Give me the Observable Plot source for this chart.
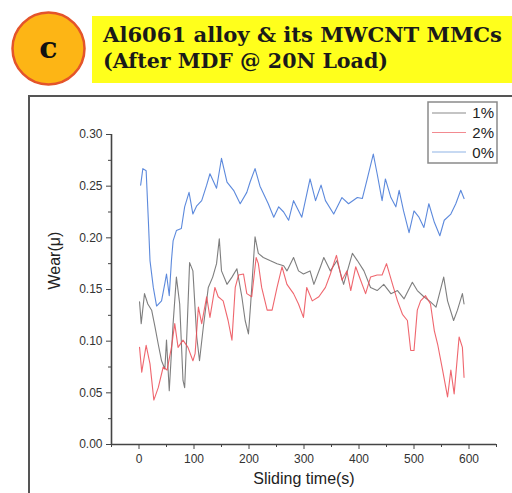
<!DOCTYPE html>
<html>
<head>
<meta charset="utf-8">
<script src="https://cdn.jsdelivr.net/npm/d3@7"></script>
<script src="https://cdn.jsdelivr.net/npm/@observablehq/plot@0.6"></script>
<style>
  html, body { margin: 0; padding: 0; background: #fff; }
  body { width: 512px; height: 493px; overflow: hidden; position: relative; font-family: "Liberation Sans", Arial, sans-serif; }
  #header { position: absolute; left: 0; top: 0; }
  #frame { position: absolute; left: 28px; top: 95px; width: 520px; height: 430px; border: 2px solid #555; box-sizing: border-box; }
  #chart { position: absolute; left: 30px; top: 97px; }
  #legend { position: absolute; left: 0; top: 0; pointer-events: none; }
</style>
</head>
<body>
<svg id="header" width="512" height="95">
  <circle cx="48.5" cy="48.5" r="36" fill="#fdb515" stroke="#e4542a" stroke-width="2.5"/>
  <text x="48.5" y="58" text-anchor="middle" font-family="DejaVu Serif" font-weight="bold" font-size="30" fill="#111">c</text>
  <rect x="92" y="16" width="420" height="67" fill="#ffff1c"/>
  <text x="103" y="42" font-family="DejaVu Serif" font-weight="bold" font-size="20" fill="#1a1a1a" textLength="399" lengthAdjust="spacingAndGlyphs">Al6061 alloy &amp; its MWCNT MMCs</text>
  <text x="103" y="68" font-family="DejaVu Serif" font-weight="bold" font-size="20" fill="#1a1a1a" textLength="285" lengthAdjust="spacingAndGlyphs">(After MDF @ 20N Load)</text>
</svg>
<div id="frame"></div>
<div id="chart"></div>
<svg id="legend" width="512" height="493">
  <rect x="428" y="102" width="69" height="61" fill="#fff" stroke="#8a8a8a" stroke-width="1.5"/>
  <line x1="432" x2="466" y1="113" y2="113" stroke="#8a8a8a" stroke-width="1.2"/>
  <line x1="432" x2="466" y1="132.5" y2="132.5" stroke="#f28a90" stroke-width="1.2"/>
  <line x1="432" x2="466" y1="152" y2="152" stroke="#90b4e6" stroke-width="1.2"/>
  <text x="494" y="118" text-anchor="end" font-family="Liberation Sans, Arial" font-size="15" fill="#222">1%</text>
  <text x="494" y="138" text-anchor="end" font-family="Liberation Sans, Arial" font-size="15" fill="#222">2%</text>
  <text x="494" y="158" text-anchor="end" font-family="Liberation Sans, Arial" font-size="15" fill="#222">0%</text>
</svg>
<script>
const seriesNames = ["1%", "2%", "0%"];

const t0 = [3,7,13,17,20,26,32,41,47,50,55,59,62,68,77,83,91,98,105,114,123,129,141,150,160,172,184,196,202,211,220,235,245,254,263,272,281,296,311,321,331,339,354,369,381,397,406,415,426,433,442,448,458,467,473,481,491,500,509,518,527,537,547,555,567,576,585,591];
const v0 = [0.251,0.267,0.265,0.217,0.178,0.152,0.134,0.139,0.156,0.165,0.144,0.178,0.197,0.207,0.209,0.230,0.244,0.223,0.231,0.236,0.251,0.262,0.248,0.277,0.254,0.246,0.233,0.244,0.254,0.267,0.250,0.233,0.220,0.230,0.225,0.217,0.236,0.220,0.257,0.236,0.251,0.236,0.223,0.239,0.233,0.239,0.238,0.257,0.281,0.262,0.236,0.257,0.239,0.230,0.246,0.226,0.205,0.226,0.220,0.210,0.233,0.215,0.202,0.217,0.223,0.233,0.246,0.238];

const t1 = [1,4,10,16,23,29,35,41,47,50,55,62,68,74,80,83,88,92,98,105,110,117,126,134,141,146,150,160,169,178,187,193,199,203,211,217,226,238,251,263,269,281,290,299,311,318,330,336,348,360,372,388,397,409,421,433,445,458,470,482,497,506,518,530,540,554,561,572,579,588,591];
const v1 = [0.138,0.117,0.146,0.136,0.130,0.114,0.097,0.081,0.073,0.101,0.052,0.117,0.162,0.136,0.062,0.055,0.120,0.176,0.168,0.104,0.081,0.114,0.152,0.162,0.175,0.199,0.168,0.155,0.162,0.170,0.143,0.120,0.107,0.136,0.201,0.185,0.181,0.178,0.175,0.173,0.168,0.181,0.168,0.165,0.168,0.155,0.172,0.181,0.168,0.178,0.155,0.185,0.178,0.168,0.152,0.149,0.155,0.146,0.149,0.141,0.157,0.149,0.143,0.138,0.133,0.162,0.139,0.120,0.130,0.146,0.136];

const t2 = [1,5,13,20,27,35,44,51,59,65,71,80,89,98,102,108,114,123,129,138,144,153,162,169,175,181,190,196,205,213,217,223,233,242,251,260,269,281,290,299,305,315,327,339,348,359,369,378,385,394,403,412,421,433,442,450,461,470,479,488,494,500,506,512,521,530,537,543,552,561,567,573,582,588,591];
const v2 = [0.094,0.070,0.096,0.078,0.043,0.055,0.075,0.072,0.094,0.117,0.094,0.101,0.094,0.081,0.088,0.133,0.117,0.143,0.123,0.152,0.143,0.139,0.120,0.101,0.152,0.164,0.165,0.146,0.143,0.181,0.175,0.152,0.130,0.130,0.152,0.172,0.155,0.146,0.136,0.123,0.152,0.139,0.143,0.152,0.165,0.183,0.159,0.168,0.149,0.172,0.159,0.146,0.162,0.164,0.164,0.175,0.155,0.139,0.126,0.120,0.091,0.091,0.130,0.139,0.144,0.136,0.110,0.097,0.072,0.046,0.072,0.049,0.104,0.094,0.065];

const xMajor = [0,100,200,300,400,500,600];
const xMinor = [-50,50,150,250,350,450,550,650];
const yMajor = [0,0.05,0.10,0.15,0.20,0.25,0.30];
const yMinor = [0.025,0.075,0.125,0.175,0.225,0.275];

const toRows = (ts, vs) => ts.map((t, i) => ({t, v: vs[i]}));
const s1 = toRows(t1, v1), s2 = toRows(t2, v2), s0 = toRows(t0, v0);

const axisColor = "#444";
const chart = Plot.plot({
  width: 482,
  height: 396,
  marginLeft: 81,
  marginRight: 16,
  marginTop: 37,
  marginBottom: 49,
  style: {fontFamily: "Liberation Sans, Arial, sans-serif", color: "#333", background: "transparent"},
  x: {domain: [-50, 650]},
  y: {domain: [0, 0.30]},
  marks: [
    Plot.line(s1, {x: "t", y: "v", stroke: "#707070", strokeWidth: 1.1, strokeOpacity: 0.9}),
    Plot.line(s2, {x: "t", y: "v", stroke: "#ec4b55", strokeWidth: 1.1, strokeOpacity: 0.85}),
    Plot.line(s0, {x: "t", y: "v", stroke: "#3f74d6", strokeWidth: 1.1, strokeOpacity: 0.85}),
    Plot.ruleX([-50], {y1: 0, y2: 0.30, stroke: axisColor, strokeWidth: 1.6}),
    Plot.ruleY([0], {x1: -50, x2: 650, stroke: axisColor, strokeWidth: 1.6}),
    Plot.axisY(yMajor, {tickSize: 5, tickPadding: 4, tickFormat: d3.format(".2f"), fontSize: 12, stroke: axisColor, fill: "#333", label: null}),
    Plot.axisY(yMinor, {tickSize: 3, tickFormat: () => "", stroke: axisColor, label: null}),
    Plot.axisX(xMajor, {tickSize: 5, tickPadding: 5, tickFormat: d3.format("d"), fontSize: 12, stroke: axisColor, fill: "#333", label: null}),
    Plot.axisX(xMinor, {tickSize: 3, tickFormat: () => "", stroke: axisColor, label: null}),
    Plot.text(["Wear(μ)"], {frameAnchor: "left", dx: -57, rotate: -90, fontSize: 16, fill: "#222"}),
    Plot.text(["Sliding time(s)"], {frameAnchor: "bottom", dy: 39, fontSize: 16, fill: "#222"})
  ]
});
document.getElementById("chart").appendChild(chart);
</script>
</body>
</html>
